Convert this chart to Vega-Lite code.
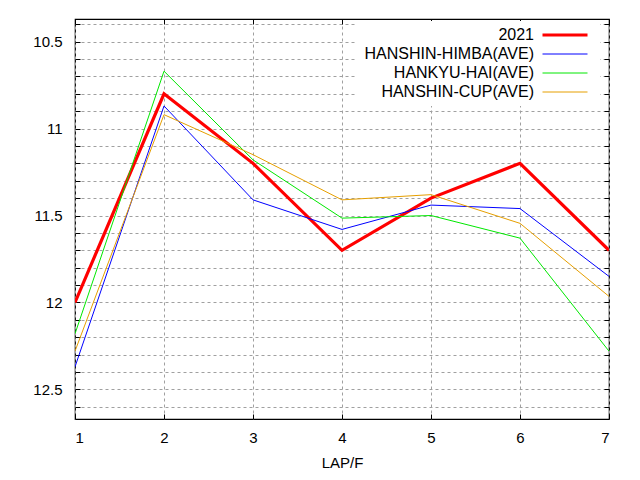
{
  "$schema": "https://vega.github.io/schema/vega-lite/v6.json",
  "width": 534,
  "height": 400,
  "autosize": {"type": "none"},
  "padding": {"left": 75, "top": 19, "right": 31, "bottom": 61},
  "background": "white",
  "config": {
    "font": "Liberation Sans",
    "view": {"stroke": "black", "strokeWidth": 1.2},
    "axis": {
      "domain": false,
      "grid": true,
      "gridColor": "#a0a0a0",
      "gridDash": [3, 3],
      "gridWidth": 1,
      "gridOpacity": 1,
      "tickColor": "black",
      "tickSize": -5,
      "labelFontSize": 15,
      "labelColor": "black",
      "labelFont": "Liberation Sans",
      "titleFont": "Liberation Sans",
      "titleFontSize": 15,
      "titleFontWeight": "normal",
      "titleColor": "black"
    }
  },
  "data": {
    "values": [
      {"lap": 1, "series": "2021", "time": 12.0},
      {"lap": 2, "series": "2021", "time": 10.8},
      {"lap": 3, "series": "2021", "time": 11.2},
      {"lap": 4, "series": "2021", "time": 11.7},
      {"lap": 5, "series": "2021", "time": 11.4},
      {"lap": 6, "series": "2021", "time": 11.2},
      {"lap": 7, "series": "2021", "time": 11.7},
      {"lap": 1, "series": "HANSHIN-HIMBA(AVE)", "time": 12.37},
      {"lap": 2, "series": "HANSHIN-HIMBA(AVE)", "time": 10.87},
      {"lap": 3, "series": "HANSHIN-HIMBA(AVE)", "time": 11.41},
      {"lap": 4, "series": "HANSHIN-HIMBA(AVE)", "time": 11.58},
      {"lap": 5, "series": "HANSHIN-HIMBA(AVE)", "time": 11.44},
      {"lap": 6, "series": "HANSHIN-HIMBA(AVE)", "time": 11.46},
      {"lap": 7, "series": "HANSHIN-HIMBA(AVE)", "time": 11.85},
      {"lap": 1, "series": "HANKYU-HAI(AVE)", "time": 12.18},
      {"lap": 2, "series": "HANKYU-HAI(AVE)", "time": 10.67},
      {"lap": 3, "series": "HANKYU-HAI(AVE)", "time": 11.18},
      {"lap": 4, "series": "HANKYU-HAI(AVE)", "time": 11.515},
      {"lap": 5, "series": "HANKYU-HAI(AVE)", "time": 11.5},
      {"lap": 6, "series": "HANKYU-HAI(AVE)", "time": 11.63},
      {"lap": 7, "series": "HANKYU-HAI(AVE)", "time": 12.28},
      {"lap": 1, "series": "HANSHIN-CUP(AVE)", "time": 12.28},
      {"lap": 2, "series": "HANSHIN-CUP(AVE)", "time": 10.92},
      {"lap": 3, "series": "HANSHIN-CUP(AVE)", "time": 11.15},
      {"lap": 4, "series": "HANSHIN-CUP(AVE)", "time": 11.41},
      {"lap": 5, "series": "HANSHIN-CUP(AVE)", "time": 11.38},
      {"lap": 6, "series": "HANSHIN-CUP(AVE)", "time": 11.545},
      {"lap": 7, "series": "HANSHIN-CUP(AVE)", "time": 11.965}
    ]
  },
  "resolve": {"axis": {"x": "independent", "y": "independent"}},
  "layer": [
    {
      "mark": {"type": "line", "clip": true},
      "encoding": {
        "x": {
          "field": "lap",
          "type": "quantitative",
          "scale": {"domain": [1, 7], "nice": false, "zero": false},
          "axis": {"values": [1, 2, 3, 4, 5, 6, 7], "title": "LAP/F", "labelPadding": 16, "titlePadding": 10, "format": "d"}
        },
        "y": {
          "field": "time",
          "type": "quantitative",
          "scale": {"domain": [10.37, 12.67], "nice": false, "zero": false, "reverse": true},
          "axis": {
            "title": null,
            "values": [10.4, 10.5, 10.6, 10.7, 10.8, 10.9, 11, 11.1, 11.2, 11.3, 11.4, 11.5, 11.6, 11.7, 11.8, 11.9, 12, 12.1, 12.2, 12.3, 12.4, 12.5, 12.6],
            "labelExpr": "abs(datum.value * 2 - round(datum.value * 2)) < 0.001 ? format(datum.value, '.3~g') : ''",
            "labelPadding": 18
          }
        },
        "color": {
          "field": "series",
          "type": "nominal",
          "scale": {
            "domain": ["2021", "HANSHIN-HIMBA(AVE)", "HANKYU-HAI(AVE)", "HANSHIN-CUP(AVE)"],
            "range": ["#ff0000", "#0000ff", "#00e800", "#e69f00"]
          },
          "legend": {
            "title": null,
            "orient": "none",
            "legendX": 280,
            "legendY": 2,
            "symbolType": "M86.75,0H109.25",
            "symbolSize": 16,
            "labelAlign": "right",
            "labelOffset": 157,
            "labelFontSize": 16,
            "labelColor": "black",
            "labelLimit": 400,
            "rowPadding": 3,
            "fillColor": "white",
            "padding": 6
          }
        },
        "strokeWidth": {
          "field": "series",
          "type": "nominal",
          "scale": {
            "type": "ordinal",
            "domain": ["2021", "HANSHIN-HIMBA(AVE)", "HANKYU-HAI(AVE)", "HANSHIN-CUP(AVE)"],
            "range": [3.2, 1, 1, 1]
          }
        }
      }
    },
    {
      "mark": {"type": "line", "opacity": 0},
      "encoding": {
        "x": {
          "field": "lap",
          "type": "quantitative",
          "axis": {"orient": "top", "values": [1, 2, 3, 4, 5, 6, 7], "labels": false, "grid": false, "title": null}
        },
        "y": {
          "field": "time",
          "type": "quantitative",
          "axis": {
            "orient": "right",
            "values": [10.4, 10.5, 10.6, 10.7, 10.8, 10.9, 11, 11.1, 11.2, 11.3, 11.4, 11.5, 11.6, 11.7, 11.8, 11.9, 12, 12.1, 12.2, 12.3, 12.4, 12.5, 12.6],
            "labels": false,
            "grid": false,
            "title": null
          }
        },
        "detail": {"field": "series"}
      }
    }
  ]
}
